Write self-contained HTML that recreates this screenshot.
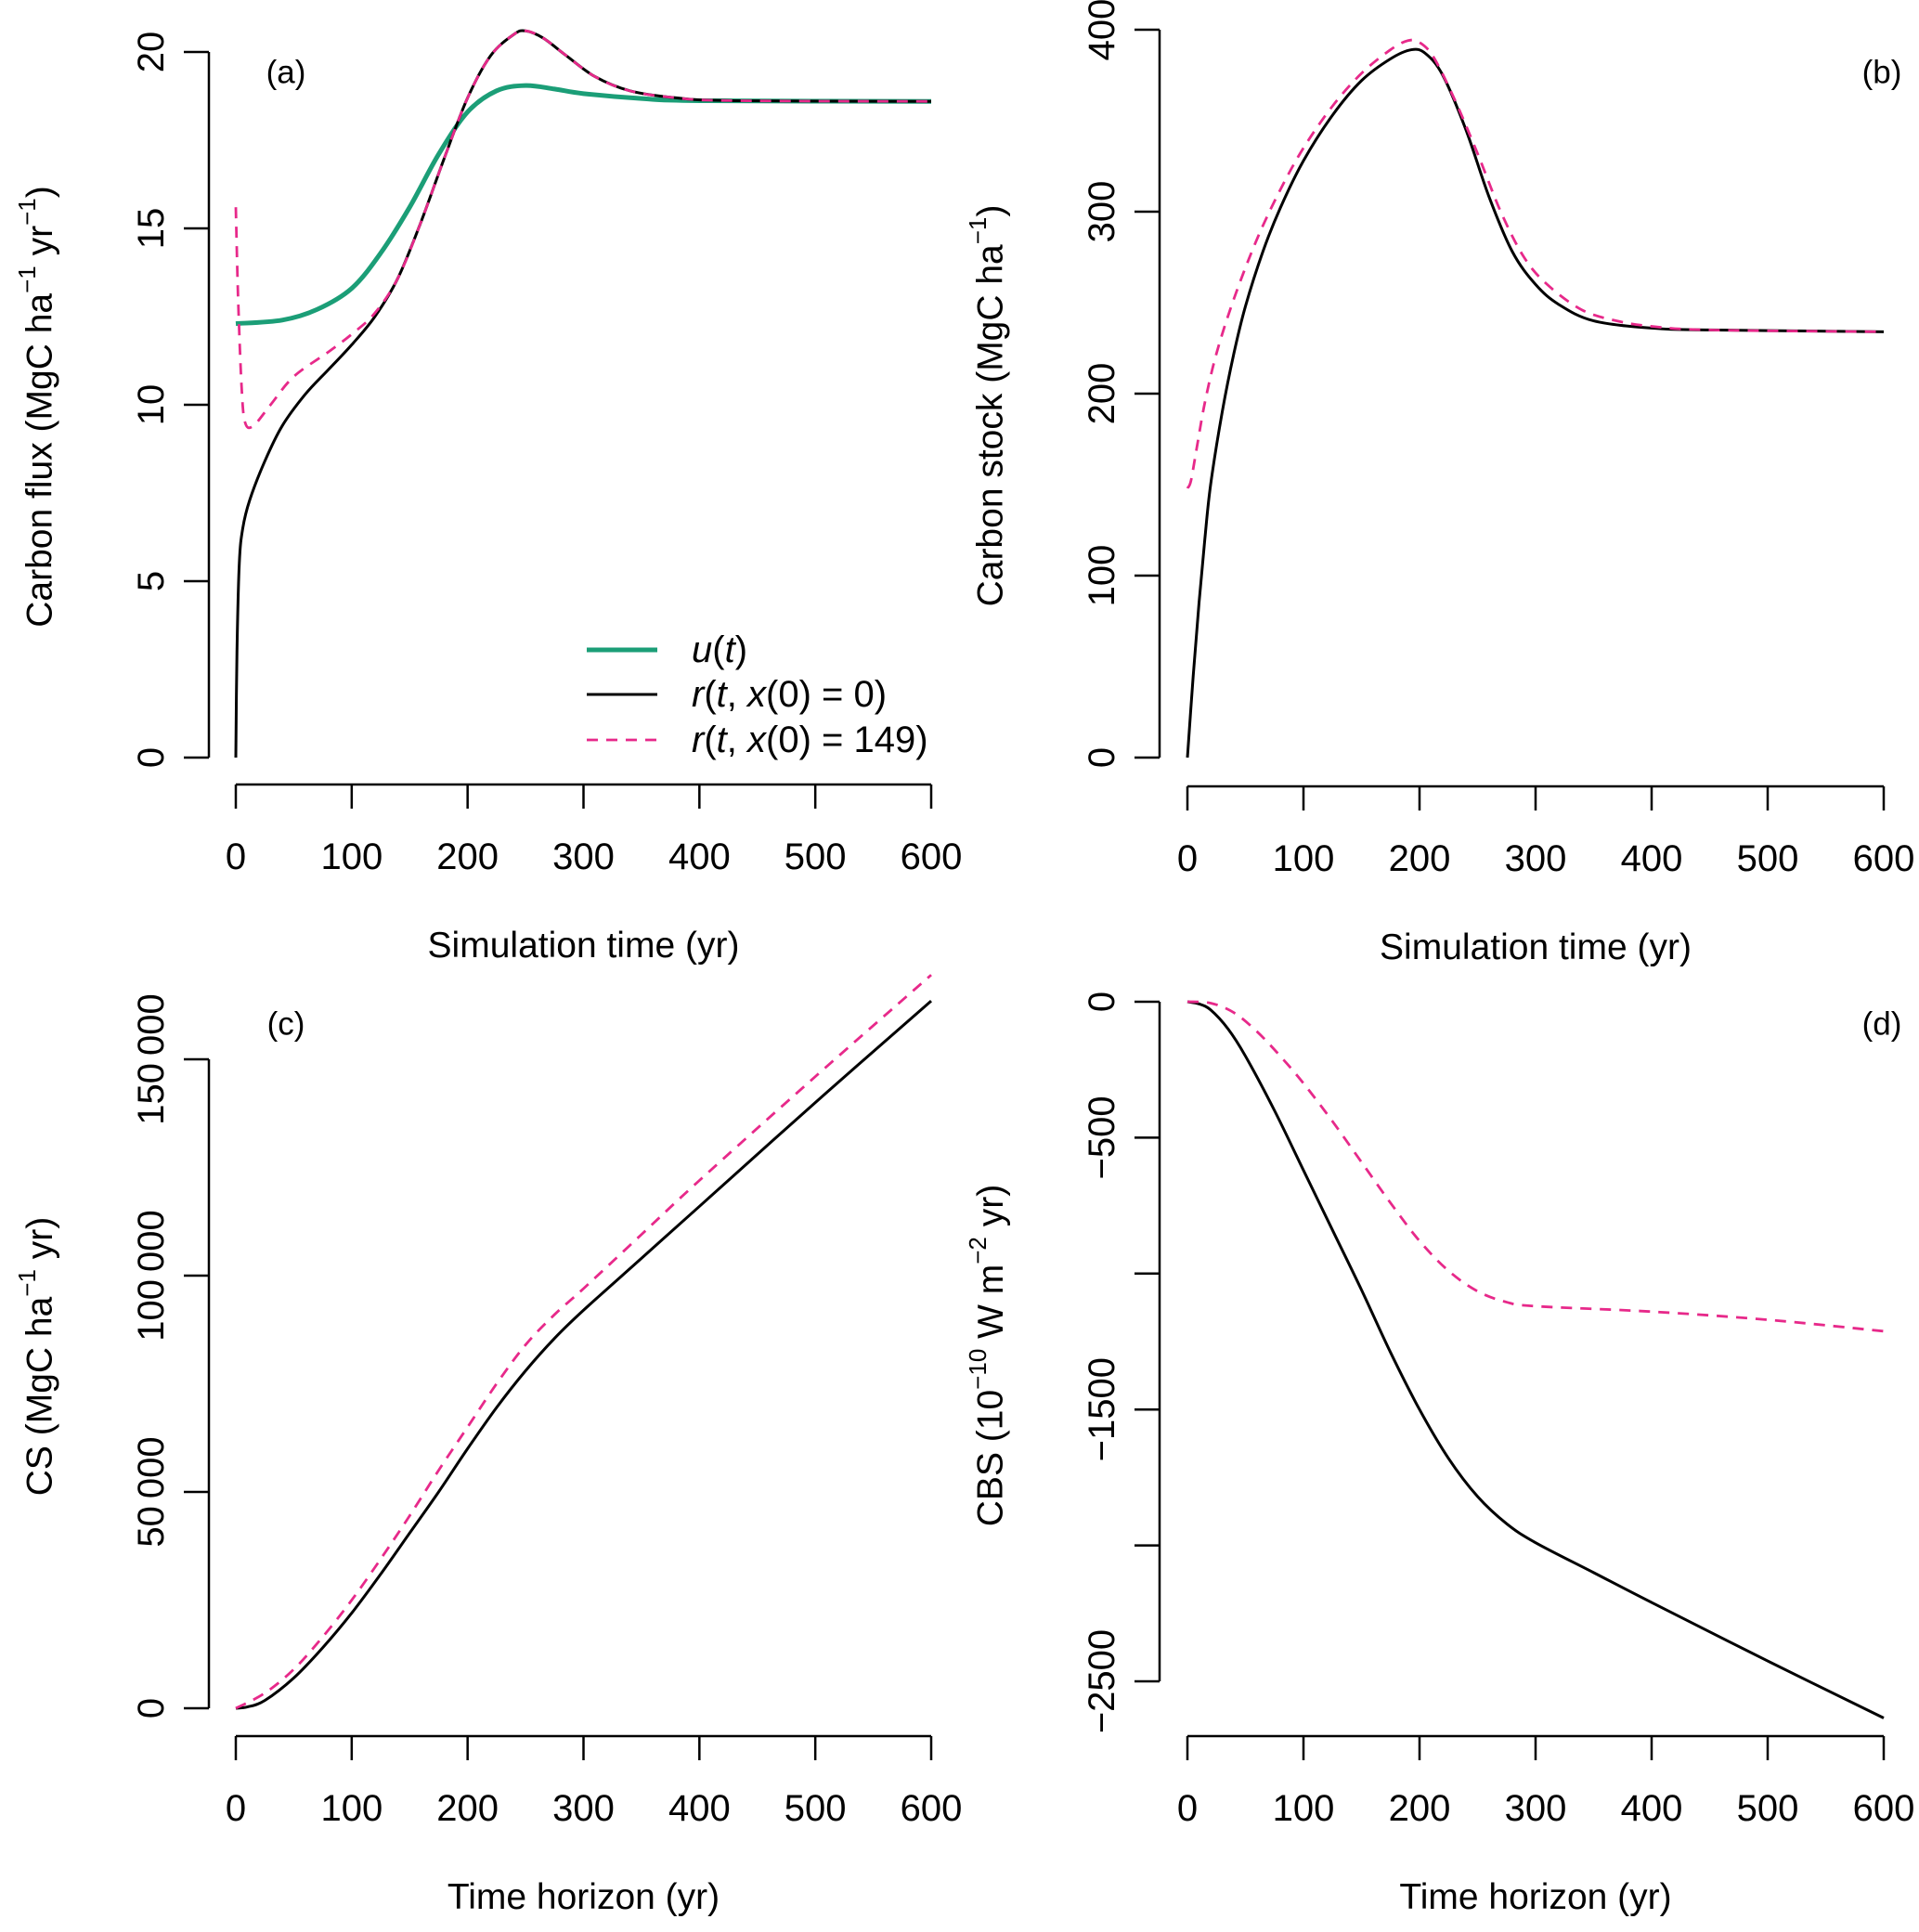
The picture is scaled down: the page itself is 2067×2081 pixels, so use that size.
<!DOCTYPE html>
<html><head><meta charset="utf-8"><style>
body{margin:0;background:#fff}
svg text{font-family:"Liberation Sans",sans-serif;fill:#000}
</style></head><body>
<svg id="chart" xmlns="http://www.w3.org/2000/svg" width="2067" height="2076" viewBox="0 0 2067 2076"></svg>
<script>
// ---- Data ----
const aBlackX=[0,1,3,6,12,25,40,60,80,100,120,140,160,180,200,220,240,250,265,285,310,340,380,430,600];
const aBlackY=[0,3,5.5,6.5,7.3,8.4,9.4,10.3,11.0,11.7,12.5,13.6,15.2,17.0,18.7,19.9,20.5,20.6,20.4,19.9,19.3,18.9,18.7,18.62,18.6];
const aPinkX=[0,2,5,8,15,30,50,80,100,120,140,160,180,200,220,240,250,265,285,310,340,380,430,600];
const aPinkY=[15.6,13,10.5,9.5,9.4,10,10.8,11.5,12,12.6,13.6,15.2,17.0,18.7,19.9,20.5,20.6,20.4,19.9,19.3,18.9,18.7,18.62,18.6];
const aGreenX=[0,40,70,100,125,150,175,200,225,250,275,300,350,400,600];
const aGreenY=[12.3,12.4,12.7,13.3,14.3,15.6,17.1,18.3,18.9,19.05,18.95,18.82,18.68,18.62,18.6];
const bBlackX=[0,5,10,15,20,30,40,50,65,80,100,125,150,175,193,205,220,240,260,280,300,320,350,400,450,600];
const bBlackY=[0,45,85,120,150,190,222,248,278,302,328,353,372,384,389,387,375,345,308,278,260,249,240,236,235,234];
const bPinkX=[0,3,8,15,25,40,60,80,100,125,150,175,190,200,212,230,250,270,290,310,340,370,400,450,600];
const bPinkY=[148,152,170,195,222,252,285,312,335,358,376,389,394,393,385,362,332,300,275,260,246,240,237,235,234];
const cBlackX=[0,10,25,50,75,100,125,150,175,200,225,250,275,300,350,400,500,600];
const cBlackY=[0,300,1800,7000,14000,22000,31000,40500,50000,60000,69500,78000,85500,92000,104000,116000,140000,163500];
const cPinkX=[0,25,50,75,100,125,150,175,200,225,250,275,300,350,400,500,600];
const cPinkY=[0,3500,9000,16500,25000,34500,44500,55000,65000,75000,84000,91000,97000,109500,122000,146000,169500];
const dBlackX=[0,10,20,35,50,75,100,125,150,175,200,225,250,275,300,350,400,500,600];
const dBlackY=[0,-8,-30,-100,-200,-400,-620,-840,-1060,-1290,-1500,-1680,-1820,-1920,-1990,-2100,-2210,-2425,-2635];
const dPinkX=[0,20,40,60,80,100,125,150,175,200,225,250,275,300,400,500,600];
const dPinkY=[0,-5,-40,-110,-200,-300,-440,-590,-740,-880,-990,-1065,-1105,-1120,-1140,-1170,-1212];
const xTicks=[0,100,200,300,400,500,600];
const aTicks=[0,5,10,15,20];
const bTicks=[0,100,200,300,400];
const cTicks=[0,50000,100000,150000];
const cTickLabels=["0","50\u2009000","100\u2009000","150\u2009000"];
const dTicks=[0,-500,-1000,-1500,-2000,-2500];
const dTickLabels=["0","\u2212500","","\u22121500","","\u22122500"];

const NS="http://www.w3.org/2000/svg";
const svg=document.getElementById('chart');
function el(tag,attrs,parent){const e=document.createElementNS(NS,tag);for(const k in attrs)e.setAttribute(k,attrs[k]);(parent||svg).appendChild(e);return e;}
function smooth(pts){let d=`M${pts[0][0]},${pts[0][1]}`;for(let i=0;i<pts.length-1;i++){const p0=pts[Math.max(0,i-1)],p1=pts[i],p2=pts[i+1],p3=pts[Math.min(pts.length-1,i+2)];const c1=[p1[0]+(p2[0]-p0[0])/6,p1[1]+(p2[1]-p0[1])/6],c2=[p2[0]-(p3[0]-p1[0])/6,p2[1]-(p3[1]-p1[1])/6];d+=` C${c1[0]},${c1[1]} ${c2[0]},${c2[1]} ${p2[0]},${p2[1]}`;}return d;}

function panel(cfg){
  const g=el('g',{});
  
  
  const sx=v=>cfg.x0+(v-0)/600*(cfg.x1-cfg.x0);
  const sy=v=>cfg.py0+(v-cfg.v0)/(cfg.v1-cfg.v0)*(cfg.py1-cfg.py0);
  const yt=cfg.ticks.map(sy);
  const ya=el('line',{x1:cfg.ax,x2:cfg.ax,y1:Math.min(...yt),y2:Math.max(...yt),stroke:'#000','stroke-width':2.5},g);
  
  cfg.ticks.forEach((t,i)=>{const y=sy(t);
    const tk=el('line',{x1:cfg.ax-27,x2:cfg.ax,y1:y,y2:y,stroke:'#000','stroke-width':2.5},g);
    
    const lab=cfg.labels?cfg.labels[i]:String(t);
    if(lab){const tx=el('text',{x:cfg.ax-62,y:y,'font-size':40,'text-anchor':'middle','dominant-baseline':'central',transform:`rotate(-90 ${cfg.ax-62} ${y})`},g);tx.textContent=lab;
    }
  });
  const xa=el('line',{x1:cfg.x0,x2:cfg.x1,y1:cfg.ay,y2:cfg.ay,stroke:'#000','stroke-width':2.5},g);
  
  xTicks.forEach(t=>{const x=sx(t);
    const tk=el('line',{x1:x,x2:x,y1:cfg.ay,y2:cfg.ay+26,stroke:'#000','stroke-width':2.5},g);
    
    const tx=el('text',{x:x,y:cfg.ay+91,'font-size':40,'text-anchor':'middle'},g);tx.textContent=String(t);
    
  });
  const xt=el('text',{x:(cfg.x0+cfg.x1)/2,y:cfg.ay+186,'font-size':39,'text-anchor':'middle'},g);xt.textContent=cfg.xtitle;
  
  const ytl=el('text',{x:cfg.ytx,y:cfg.yty,'font-size':39,'text-anchor':'middle','dominant-baseline':'central',transform:`rotate(-90 ${cfg.ytx} ${cfg.yty})`},g);ytl.innerHTML=cfg.ytitle;
  
  const pl=el('text',{x:cfg.px,y:cfg.pyl,'font-size':35,'text-anchor':'middle','dominant-baseline':'central'},g);pl.textContent=cfg.plabel;
  
  cfg.series.forEach(s=>{const pts=s.x.map((v,i)=>[sx(v),sy(s.y[i])]);
    const p=el('path',{d:smooth(pts),fill:'none',stroke:s.c,'stroke-width':s.w,'stroke-dasharray':s.dash||'none'},g);
    });
}
panel({name:'panel-a',x0:254,x1:1003,ax:225,ay:845,v0:0,v1:20,py0:816,py1:56,ticks:aTicks,xtitle:'Simulation time (yr)',
  ytx:43,yty:438,ytitle:'Carbon flux (MgC ha<tspan dy="-14" font-size="26">\u22121</tspan><tspan dy="14"> yr</tspan><tspan dy="-14" font-size="26">\u22121</tspan><tspan dy="14">)</tspan>',px:308,pyl:78,plabel:'(a)',
  series:[{name:'u-line',x:aGreenX,y:aGreenY,c:'#1b9e77',w:5},{name:'r-x0-0-line',x:aBlackX,y:aBlackY,c:'#000',w:3},{name:'r-x0-149-line',x:aPinkX,y:aPinkY,c:'#e7298a',w:2.8,dash:'12 9'}]});
panel({name:'panel-b',x0:1279,x1:2029,ax:1249,ay:847,v0:0,v1:400,py0:816,py1:32,ticks:bTicks,xtitle:'Simulation time (yr)',
  ytx:1067,yty:437,ytitle:'Carbon stock (MgC ha<tspan dy="-14" font-size="26">\u22121</tspan><tspan dy="14">)</tspan>',px:2027,pyl:78,plabel:'(b)',
  series:[{name:'stock-x0-0-line',x:bBlackX,y:bBlackY,c:'#000',w:3},{name:'stock-x0-149-line',x:bPinkX,y:bPinkY,c:'#e7298a',w:2.8,dash:'12 9'}]});
panel({name:'panel-c',x0:254,x1:1003,ax:225,ay:1870,v0:0,v1:150000,py0:1840,py1:1141,ticks:cTicks,labels:cTickLabels,xtitle:'Time horizon (yr)',
  ytx:43,yty:1461,ytitle:'CS (MgC ha<tspan dy="-14" font-size="26">\u22121</tspan><tspan dy="14"> yr)</tspan>',px:308,pyl:1103,plabel:'(c)',
  series:[{name:'cs-x0-0-line',x:cBlackX,y:cBlackY,c:'#000',w:3},{name:'cs-x0-149-line',x:cPinkX,y:cPinkY,c:'#e7298a',w:2.8,dash:'12 9'}]});
panel({name:'panel-d',x0:1279,x1:2029,ax:1249,ay:1870,v0:0,v1:-2500,py0:1079,py1:1811,ticks:dTicks,labels:dTickLabels,xtitle:'Time horizon (yr)',
  ytx:1067,yty:1460,ytitle:'CBS (10<tspan dy="-14" font-size="26">\u221210</tspan><tspan dy="14"> W m</tspan><tspan dy="-14" font-size="26">\u22122</tspan><tspan dy="14"> yr)</tspan>',px:2027,pyl:1103,plabel:'(d)',
  series:[{name:'cbs-x0-0-line',x:dBlackX,y:dBlackY,c:'#000',w:3},{name:'cbs-x0-149-line',x:dPinkX,y:dPinkY,c:'#e7298a',w:2.8,dash:'12 9'}]});

const lg=el('g',{});


const entries=[{c:'#1b9e77',w:5,d:'none',t:'<tspan font-style="italic">u</tspan>(<tspan font-style="italic">t</tspan>)',y:700},
 {c:'#000',w:3,d:'none',t:'<tspan font-style="italic">r</tspan>(<tspan font-style="italic">t</tspan>, <tspan font-style="italic">x</tspan>(0) = 0)',y:748},
 {c:'#e7298a',w:2.8,d:'12 9',t:'<tspan font-style="italic">r</tspan>(<tspan font-style="italic">t</tspan>, <tspan font-style="italic">x</tspan>(0) = 149)',y:797}];
entries.forEach(e=>{const l=el('line',{x1:632,x2:708,y1:e.y,y2:e.y,stroke:e.c,'stroke-width':e.w,'stroke-dasharray':e.d},lg);
 
 const t=el('text',{x:745,y:e.y,'font-size':40,'dominant-baseline':'central'},lg);t.innerHTML=e.t;
 });
</script>
</body></html>
